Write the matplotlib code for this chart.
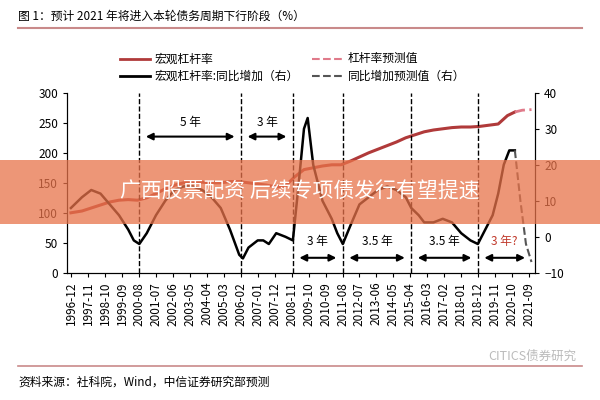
import matplotlib
matplotlib.use("Agg")
import matplotlib.pyplot as plt
import numpy as np
from matplotlib.patches import Rectangle

plt.rcParams['font.family'] = ['Noto Sans CJK SC', 'DejaVu Sans']

lev_x = [1996.9,1997.5,1998.0,1998.5,1999.0,1999.5,2000.0,2000.5,2001.0,2001.5,2002.0,2002.5,2003.0,2003.5,2004.0,2004.5,2005.0,2005.5,2006.0,2006.5,2007.0,2007.5,2008.0,2008.5,2009.0,2009.5,2010.0,2010.5,2011.0,2011.5,2012.0,2012.5,2013.0,2013.5,2014.0,2014.5,2015.0,2015.5,2016.0,2016.5,2017.0,2017.5,2018.0,2018.5,2019.0,2019.5,2020.0,2020.5,2020.9]
lev_y = [100,103,108,113,118,121,122,121,125,132,140,146,150,152,151,150,150,152,152,150,148,146,143,145,160,172,175,178,180,180,186,193,200,206,212,218,225,230,235,238,240,242,243,243,244,246,248,262,268]
lev_fx = [2020.9,2021.3,2021.8]
lev_fy = [268,271,272]

yoy_x = [1996.9,1997.5,1998.0,1998.5,1999.0,1999.5,2000.0,2000.3,2000.6,2001.0,2001.5,2002.0,2002.5,2003.0,2003.5,2004.0,2004.5,2005.0,2005.5,2006.0,2006.2,2006.5,2007.0,2007.3,2007.6,2008.0,2008.5,2008.9,2009.2,2009.5,2009.7,2010.0,2010.5,2011.0,2011.3,2011.6,2012.0,2012.5,2013.0,2013.5,2014.0,2014.5,2015.0,2015.3,2015.7,2016.0,2016.5,2017.0,2017.5,2018.0,2018.5,2018.9,2019.3,2019.7,2020.0,2020.3,2020.6,2020.9]
yoy_y = [8,11,13,12,9,6,2,-1,-2,1,6,10,13,14,14,13,11,8,2,-5,-6,-3,-1,-1,-2,1,0,-1,14,30,33,20,10,5,1,-2,3,9,11,13,14,13,11,8,6,4,4,5,4,1,-1,-2,2,6,12,20,24,24]
yoy_fx = [2020.9,2021.2,2021.5,2021.8]
yoy_fy = [24,10,-2,-7]

xticklabels = ['1996-12','1997-11','1998-10','1999-09','2000-08','2001-07','2002-06','2003-05','2004-04','2005-03','2006-02','2007-01','2007-12','2008-11','2009-10','2010-09','2011-08','2012-07','2013-06','2014-05','2015-04','2016-03','2017-02','2018-01','2018-12','2019-11','2020-10','2021-09']
xticks = [int(s[:4]) + (int(s[5:]) - 1) / 12 for s in xticklabels]

cuts = [2000.6, 2006.1, 2008.9, 2011.6, 2015.3, 2018.9]
top_spans = [(2000.6, 2006.1, '5 年'), (2006.1, 2008.9, '3 年')]
bot_spans = [(2008.9, 2011.6, '3 年', 'black'), (2011.6, 2015.3, '3.5 年', 'black'),
             (2015.3, 2018.9, '3.5 年', 'black'), (2018.9, 2021.8, '3 年?', '#c0392b')]

fig = plt.figure(figsize=(6, 4), dpi=100)
ax = fig.add_axes([0.112, 0.318, 0.78, 0.45])
ax2 = ax.twinx()

red = '#b03a3a'
ax.plot(lev_x, lev_y, color=red, lw=2.2)
ax.plot(lev_fx, lev_fy, color='#e07a8a', lw=2, ls='--')
ax2.plot(yoy_x, yoy_y, color='black', lw=1.8)
ax2.plot(yoy_fx, yoy_fy, color='#555555', lw=1.5, ls='--')

ax.set_ylim(0, 300)
ax.set_yticks([0, 50, 100, 150, 200, 250, 300])
ax2.set_ylim(-10, 40)
ax2.set_yticks([-10, 0, 10, 20, 30, 40])
ax.set_xlim(1996.7, 2022.0)
ax.set_xticks(xticks)
ax.set_xticklabels(xticklabels, rotation=90, fontsize=8.5)
for a in (ax, ax2):
    a.tick_params(labelsize=8.5, length=3)
    for s in ('top',):
        a.spines[s].set_visible(False)

for c in cuts:
    ax.axvline(c, color='black', ls='--', lw=1)
for a_, b_, t in top_spans:
    ax.annotate('', xy=(a_ + 0.2, 227), xytext=(b_ - 0.2, 227),
                arrowprops=dict(arrowstyle='<|-|>', color='black', lw=1.5))
    ax.text((a_ + b_) / 2, 250, t, ha='center', va='center', fontsize=8.5)
for a_, b_, t, c in bot_spans:
    ax.annotate('', xy=(a_ + 0.2, 25), xytext=(b_ - 0.2, 25),
                arrowprops=dict(arrowstyle='<|-|>', color='black', lw=1.5))
    ax.text((a_ + b_) / 2, 53, t, ha='center', va='center', fontsize=8.5, color=c)

# legend
fig.lines.append(plt.Line2D([0.2, 0.25], [0.853, 0.853], color=red, lw=2, transform=fig.transFigure))
fig.text(0.258, 0.853, '宏观杠杆率', fontsize=8.5, va='center')
fig.lines.append(plt.Line2D([0.2, 0.25], [0.81, 0.81], color='black', lw=2, transform=fig.transFigure))
fig.text(0.258, 0.81, '宏观杠杆率:同比增加（右）', fontsize=8.5, va='center')
fig.lines.append(plt.Line2D([0.52, 0.575], [0.853, 0.853], color='#e07a8a', lw=1.5, ls='--', transform=fig.transFigure))
fig.text(0.58, 0.853, '杠杆率预测值', fontsize=8.5, va='center')
fig.lines.append(plt.Line2D([0.52, 0.575], [0.81, 0.81], color='#555555', lw=1.5, ls='--', transform=fig.transFigure))
fig.text(0.58, 0.81, '同比增加预测值（右）', fontsize=8.5, va='center')

fig.text(0.03, 0.96, '图 1：预计 2021 年将进入本轮债务周期下行阶段（%）', fontsize=8.5, va='center')
fig.lines.append(plt.Line2D([0.03, 0.97], [0.93, 0.93], color='#c98a8a', lw=1.5, transform=fig.transFigure))
fig.lines.append(plt.Line2D([0.03, 0.97], [0.085, 0.085], color='#c98a8a', lw=1.2, transform=fig.transFigure))
fig.text(0.03, 0.045, '资料来源：社科院，Wind，中信证券研究部预测', fontsize=8.5, va='center')
fig.text(0.96, 0.11, 'CITICS债券研究', fontsize=9, color='#bbbbbb', ha='right', va='center')

# banner overlay
fig.patches.append(Rectangle((0, 0.44), 1, 0.16, transform=fig.transFigure,
                             facecolor='#e8734a', alpha=0.75, zorder=10))
fig.text(0.5, 0.52, '广西股票配资 后续专项债发行有望提速', fontsize=15, color='white',
         ha='center', va='center', zorder=11)

fig.savefig('out.png', dpi=100)
